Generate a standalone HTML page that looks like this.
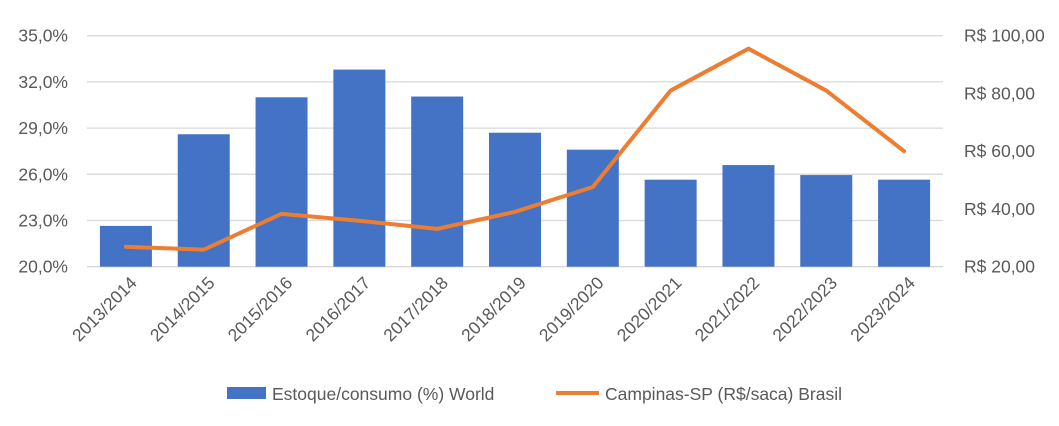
<!DOCTYPE html>
<html><head><meta charset="utf-8"><style>
body{margin:0;background:#fff;font-family:"Liberation Sans",sans-serif}
svg text{font-family:"Liberation Sans",sans-serif;fill:#595959}
</style></head><body>
<svg id="chart" width="1059" height="421" xmlns="http://www.w3.org/2000/svg">
<g id="grid"></g>
<g id="bars"></g>
<g id="line"></g>
<g id="labels"></g>
<g>
<rect x="227" y="387" width="39" height="12" fill="#4472c4"/>
<text x="272" y="400" font-size="17.5">Estoque/consumo (%) World</text>
<line x1="556" y1="393" x2="599" y2="393" stroke="#ed7d31" stroke-width="4"/>
<text x="605" y="400" font-size="17.5">Campinas-SP (R$/saca) Brasil</text>
</g>
</svg>
<script>
const categories=["2013/2014","2014/2015","2015/2016","2016/2017","2017/2018","2018/2019","2019/2020","2020/2021","2021/2022","2022/2023","2023/2024"];
const stockValues=[22.65,28.6,31.0,32.8,31.05,28.7,27.6,25.65,26.6,25.95,25.65];
const priceValues=[26.9,25.9,38.3,35.9,33.1,39.0,47.6,81.0,95.5,81.0,60.0];
const leftTicks=[20,23,26,29,32,35];
const rightTicks=[20,40,60,80,100];
const NS="http://www.w3.org/2000/svg";
const x0=87,x1=943,yTop=35.7,yBot=266.7;
const band=(x1-x0)/categories.length;
const xC=i=>x0+band*(i+0.5);
const yL=v=>yBot-(v-20)/15*(yBot-yTop);
const yR=v=>yBot-(v-20)/80*(yBot-yTop);
function mk(t,a,p){const e=document.createElementNS(NS,t);for(const k in a)e.setAttribute(k,a[k]);p.appendChild(e);return e;}
const g=document.getElementById('grid'),b=document.getElementById('bars'),l=document.getElementById('line'),lb=document.getElementById('labels');
leftTicks.forEach(v=>{
 const ln=mk('line',{x1:x0,x2:x1,y1:yL(v),y2:yL(v),stroke:'#d9d9d9','stroke-width':1.3},g);
 
 
 const t=mk('text',{x:68,y:yL(v)+6,'text-anchor':'end','font-size':17.5},lb);
 t.textContent=v.toFixed(1).replace('.',',')+'%';
 
 
});
rightTicks.forEach(v=>{
 const t=mk('text',{x:964,y:yR(v)+6,'font-size':17.5},lb);
 t.textContent='R$ '+v.toFixed(2).replace('.',',');
 
 
});
stockValues.forEach((v,i)=>{
 const r=mk('rect',{x:xC(i)-26,y:yL(v),width:52,height:yBot-yL(v),fill:'#4472c4'},b);
 
 
});
const pts=priceValues.map((v,i)=>xC(i)+','+yR(v)).join(' ');
const pl=mk('polyline',{points:pts,fill:'none',stroke:'#ed7d31','stroke-width':4,'stroke-linejoin':'round','stroke-linecap':'round'},l);


categories.forEach((c,i)=>{
 const x=xC(i)+12,y=284;
 const t=mk('text',{x:x,y:y,'text-anchor':'end','font-size':17.5,transform:`rotate(-45 ${x} ${y})`},lb);
 t.textContent=c;
 
 
});
</script>
</body></html>
